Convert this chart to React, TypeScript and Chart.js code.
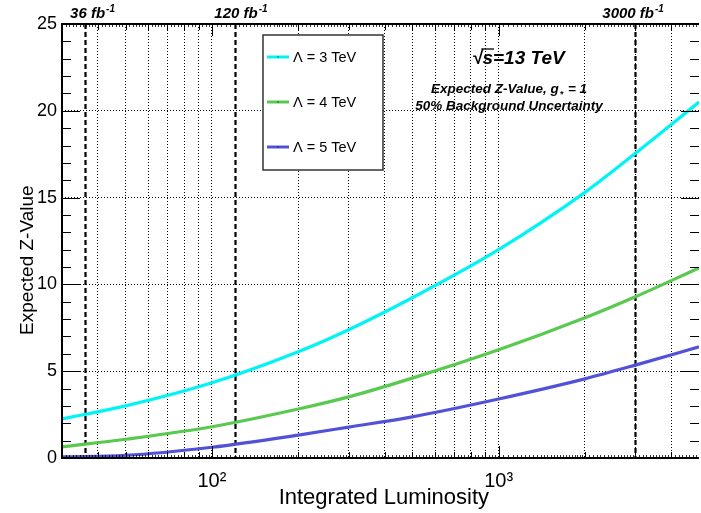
import React, { useEffect, useRef } from 'react';
import { Chart, registerables } from 'chart.js';

Chart.register(...registerables);

// ---------------- data ----------------
const luminosity = [30, 50, 100, 200, 300, 500, 1000, 2000, 3000, 5000];
const zLambda3 = [2.25, 3.0, 4.33, 6.12, 7.39, 9.23, 12.0, 15.3, 17.55, 20.5];
const zLambda4 = [0.64, 1.08, 1.8, 2.82, 3.52, 4.6, 6.23, 8.08, 9.29, 10.95];
const zLambda5 = [0.07, 0.15, 0.62, 1.32, 1.78, 2.37, 3.4, 4.56, 5.35, 6.4];
const seriesLabels = ['\u039B = 3 TeV', '\u039B = 4 TeV', '\u039B = 5 TeV'];
const seriesColors = ['#00f4f4', '#59c94f', '#5252d8'];

const benchmarkLumi = [36, 120, 3000];
const benchmarkText = ['36 fb', '120 fb', '3000 fb'];
const benchmarkLabelStart = [32, 102, 2300];

const xMin = 30;
const xMax = 5000;
const xTickValues = [30, 40, 50, 60, 70, 80, 90, 100, 200, 300, 400, 500, 600, 700, 800, 900, 1000, 2000, 3000, 4000, 5000];
const xMajorTicks = [100, 1000];
const xTickLabels: Record<number, string> = { 100: '10\u00B2', 1000: '10\u00B3' };
const yMin = 0;
const yMax = 25;
const yMajorStep = 5;

const FONT = '"Liberation Sans", Arial, Helvetica, sans-serif';

function fontStr(size: number, bold = false, italic = false) {
  return `${italic ? 'italic ' : ''}${bold ? 'bold ' : ''}${size}px ${FONT}`;
}

function drawSup(ctx: CanvasRenderingContext2D, x: number, y: number, base: string, sup: string, size: number) {
  ctx.font = fontStr(size, true, true);
  const w1 = ctx.measureText(base).width;
  ctx.textAlign = 'left';
  ctx.textBaseline = 'alphabetic';
  ctx.fillText(base, x, y);
  ctx.font = fontStr(Math.round(size * 0.65), true, true);
  ctx.fillText(sup, x + w1 + 1, y - size * 0.42);
}

const rootPlugin = {
  id: 'rootStyle',
  beforeDatasetsDraw(chart: any) {
    const { ctx, chartArea, scales } = chart;
    const xs = scales.x;
    ctx.save();
    ctx.strokeStyle = '#000';
    ctx.lineWidth = 2.2;
    ctx.setLineDash([5, 3]);
    benchmarkLumi.forEach((v) => {
      const px = Math.round(xs.getPixelForValue(v)) + 0.5;
      ctx.beginPath();
      ctx.moveTo(px, chartArea.top);
      ctx.lineTo(px, chartArea.bottom);
      ctx.stroke();
    });
    ctx.restore();
  },
  afterDatasetsDraw(chart: any) {
    const { ctx, chartArea, scales } = chart;
    const xs = scales.x;
    const ys = scales.y;
    const { left, right, top, bottom } = chartArea;
    ctx.save();
    ctx.strokeStyle = '#000';
    ctx.fillStyle = '#000';
    ctx.setLineDash([]);

    // y ticks (inward on both sides)
    ctx.lineWidth = 1;
    for (let v = yMin + 1; v < yMax; v++) {
      const py = Math.round(ys.getPixelForValue(v)) + 0.5;
      const len = v % yMajorStep === 0 ? 18 : 9;
      ctx.beginPath();
      ctx.moveTo(left, py);
      ctx.lineTo(left + len, py);
      ctx.moveTo(right, py);
      ctx.lineTo(right - len, py);
      ctx.stroke();
    }
    // x ticks (inward bottom and top)
    xTickValues.forEach((v) => {
      if (v === xMin || v === xMax) return;
      const px = Math.round(xs.getPixelForValue(v)) + 0.5;
      const len = xMajorTicks.includes(v) ? 12 : 6;
      ctx.beginPath();
      ctx.moveTo(px, bottom);
      ctx.lineTo(px, bottom - len);
      ctx.moveTo(px, top);
      ctx.lineTo(px, top + len);
      ctx.stroke();
    });
    // fine sub-ticks along bottom/top axis
    ctx.lineWidth = 0.8;
    for (let i = 0; i < xTickValues.length - 1; i++) {
      const a = xTickValues[i];
      const b = xTickValues[i + 1];
      const d = xs.getPixelForValue(b) - xs.getPixelForValue(a);
      const n = Math.max(1, Math.round(d / 3.4));
      for (let k = 1; k < n; k++) {
        const px = Math.round(xs.getPixelForValue(a + ((b - a) * k) / n)) + 0.5;
        ctx.beginPath();
        ctx.moveTo(px, bottom);
        ctx.lineTo(px, bottom - 3);
        ctx.moveTo(px, top);
        ctx.lineTo(px, top + 3);
        ctx.stroke();
      }
    }

    // frame
    ctx.lineWidth = 2;
    ctx.beginPath();
    ctx.moveTo(right, top);
    ctx.lineTo(left, top);
    ctx.lineTo(left, bottom);
    ctx.lineTo(right, bottom);
    ctx.stroke();

    // benchmark labels
    benchmarkLumi.forEach((v, i) => {
      const px = xs.getPixelForValue(benchmarkLabelStart[i]);
      drawSup(ctx, px, 18, benchmarkText[i], '-1', 15);
    });

    // legend box
    const lx = 263, ly = 35, lw = 120, lh = 135;
    ctx.fillStyle = '#fff';
    ctx.fillRect(lx, ly, lw, lh);
    ctx.strokeStyle = '#333';
    ctx.lineWidth = 1.5;
    ctx.strokeRect(lx, ly, lw, lh);
    const rowY = [57, 102, 147];
    chart.data.datasets.forEach((ds: any, i: number) => {
      ctx.strokeStyle = ds.borderColor;
      ctx.lineWidth = 3;
      ctx.beginPath();
      ctx.moveTo(267, rowY[i]);
      ctx.lineTo(289, rowY[i]);
      ctx.stroke();
      ctx.fillStyle = '#000';
      ctx.fillRect(277.5, rowY[i] - 0.5, 1, 1);
      ctx.font = fontStr(14.5);
      ctx.textAlign = 'left';
      ctx.textBaseline = 'alphabetic';
      ctx.fillText(ds.label, 293, rowY[i] + 5);
    });

    // sqrt(s) = 13 TeV
    ctx.fillStyle = '#000';
    ctx.strokeStyle = '#000';
    const sqrtX = 472, sqrtY = 64;
    ctx.font = fontStr(19, true, true);
    ctx.textAlign = 'left';
    ctx.fillText('\u221A', sqrtX, sqrtY);
    const wRoot = ctx.measureText('\u221A').width;
    const wS = ctx.measureText('s').width;
    ctx.fillText('s=13 TeV', sqrtX + wRoot, sqrtY);
    ctx.lineWidth = 1.3;
    ctx.beginPath();
    ctx.moveTo(sqrtX + wRoot - 1, sqrtY - 15);
    ctx.lineTo(sqrtX + wRoot + wS + 1, sqrtY - 15);
    ctx.stroke();

    // analysis text lines
    const cx = 509;
    ctx.font = fontStr(13.5, true, true);
    const part1 = 'Expected Z-Value, g';
    const part3 = ' = 1';
    const w1 = ctx.measureText(part1).width;
    const w3 = ctx.measureText(part3).width;
    ctx.font = fontStr(9, true, true);
    const w2 = ctx.measureText('*').width + 2;
    const startX = cx - (w1 + w2 + w3) / 2;
    ctx.font = fontStr(13.5, true, true);
    ctx.fillText(part1, startX, 93);
    ctx.font = fontStr(9, true, true);
    ctx.fillText('*', startX + w1 + 1, 97);
    ctx.font = fontStr(13.5, true, true);
    ctx.fillText(part3, startX + w1 + w2, 93);
    ctx.textAlign = 'center';
    ctx.fillText('50% Background Uncertainty', cx, 110);

    // axis titles
    ctx.font = fontStr(22);
    ctx.textAlign = 'right';
    ctx.fillText('Integrated Luminosity', 489, 504);
    ctx.save();
    ctx.font = fontStr(19);
    ctx.translate(33, 335);
    ctx.rotate(-Math.PI / 2);
    ctx.textAlign = 'left';
    ctx.fillText('Expected Z-Value', 0, 0);
    ctx.restore();

    ctx.restore();
  },
};

export default function App() {
  const canvasRef = useRef<HTMLCanvasElement | null>(null);

  useEffect(() => {
    const canvas = canvasRef.current;
    if (!canvas) return;
    const makeDs = (label: string, values: number[], color: string) => ({
      label,
      data: luminosity.map((x, i) => ({ x, y: values[i] })),
      borderColor: color,
      backgroundColor: color,
      borderWidth: 3.2,
      pointRadius: 0,
      cubicInterpolationMode: 'monotone' as const,
      showLine: true,
      fill: false,
    });
    const chart = new Chart(canvas, {
      type: 'scatter',
      data: {
        datasets: [
          makeDs(seriesLabels[0], zLambda3, seriesColors[0]),
          makeDs(seriesLabels[1], zLambda4, seriesColors[1]),
          makeDs(seriesLabels[2], zLambda5, seriesColors[2]),
        ],
      },
      options: {
        responsive: false,
        animation: false,
        devicePixelRatio: window.devicePixelRatio || 1,
        layout: { padding: { top: 24, right: 6, left: 0, bottom: 0 } },
        plugins: { legend: { display: false }, tooltip: { enabled: false }, title: { display: false } },
        scales: {
          x: {
            type: 'logarithmic',
            min: xMin,
            max: xMax,
            afterBuildTicks: (scale: any) => {
              scale.ticks = xTickValues.map((v) => ({ value: v, major: xMajorTicks.includes(v) }));
            },
            afterFit: (scale: any) => {
              scale.height = 55;
            },
            ticks: {
              autoSkip: false,
              maxRotation: 0,
              padding: 11,
              color: '#000',
              font: { family: FONT, size: 20 },
              callback: (value: any) => xTickLabels[Number(value)] ?? '',
            },
            grid: {
              drawTicks: false,
              lineWidth: 1,
              color: (ctx: any) => {
                const v = ctx.tick?.value;
                return v === xMin || v === xMax ? 'rgba(0,0,0,0)' : '#000';
              },
            },
            border: { display: false, dash: [1, 2] },
          },
          y: {
            type: 'linear',
            min: yMin,
            max: yMax,
            afterFit: (scale: any) => {
              scale.width = 62;
            },
            ticks: {
              stepSize: 1,
              autoSkip: false,
              padding: 5,
              color: '#000',
              font: { family: FONT, size: 18 },
              callback: (value: any) => (Number(value) % yMajorStep === 0 ? String(value) : ''),
            },
            grid: {
              drawTicks: false,
              lineWidth: 1,
              color: (ctx: any) => {
                const v = ctx.tick?.value;
                return v % yMajorStep === 0 && v > yMin && v < yMax ? '#000' : 'rgba(0,0,0,0)';
              },
            },
            border: { display: false, dash: [1, 2] },
          },
        },
      },
      plugins: [rootPlugin],
    });
    return () => chart.destroy();
  }, []);

  return (
    <div style={{ position: 'fixed', left: 0, top: 0, width: 701, height: 513, overflow: 'hidden', background: '#fff' }}>
      <canvas ref={canvasRef} width={710} height={513} style={{ width: 710, height: 513, display: 'block' }} />
    </div>
  );
}
